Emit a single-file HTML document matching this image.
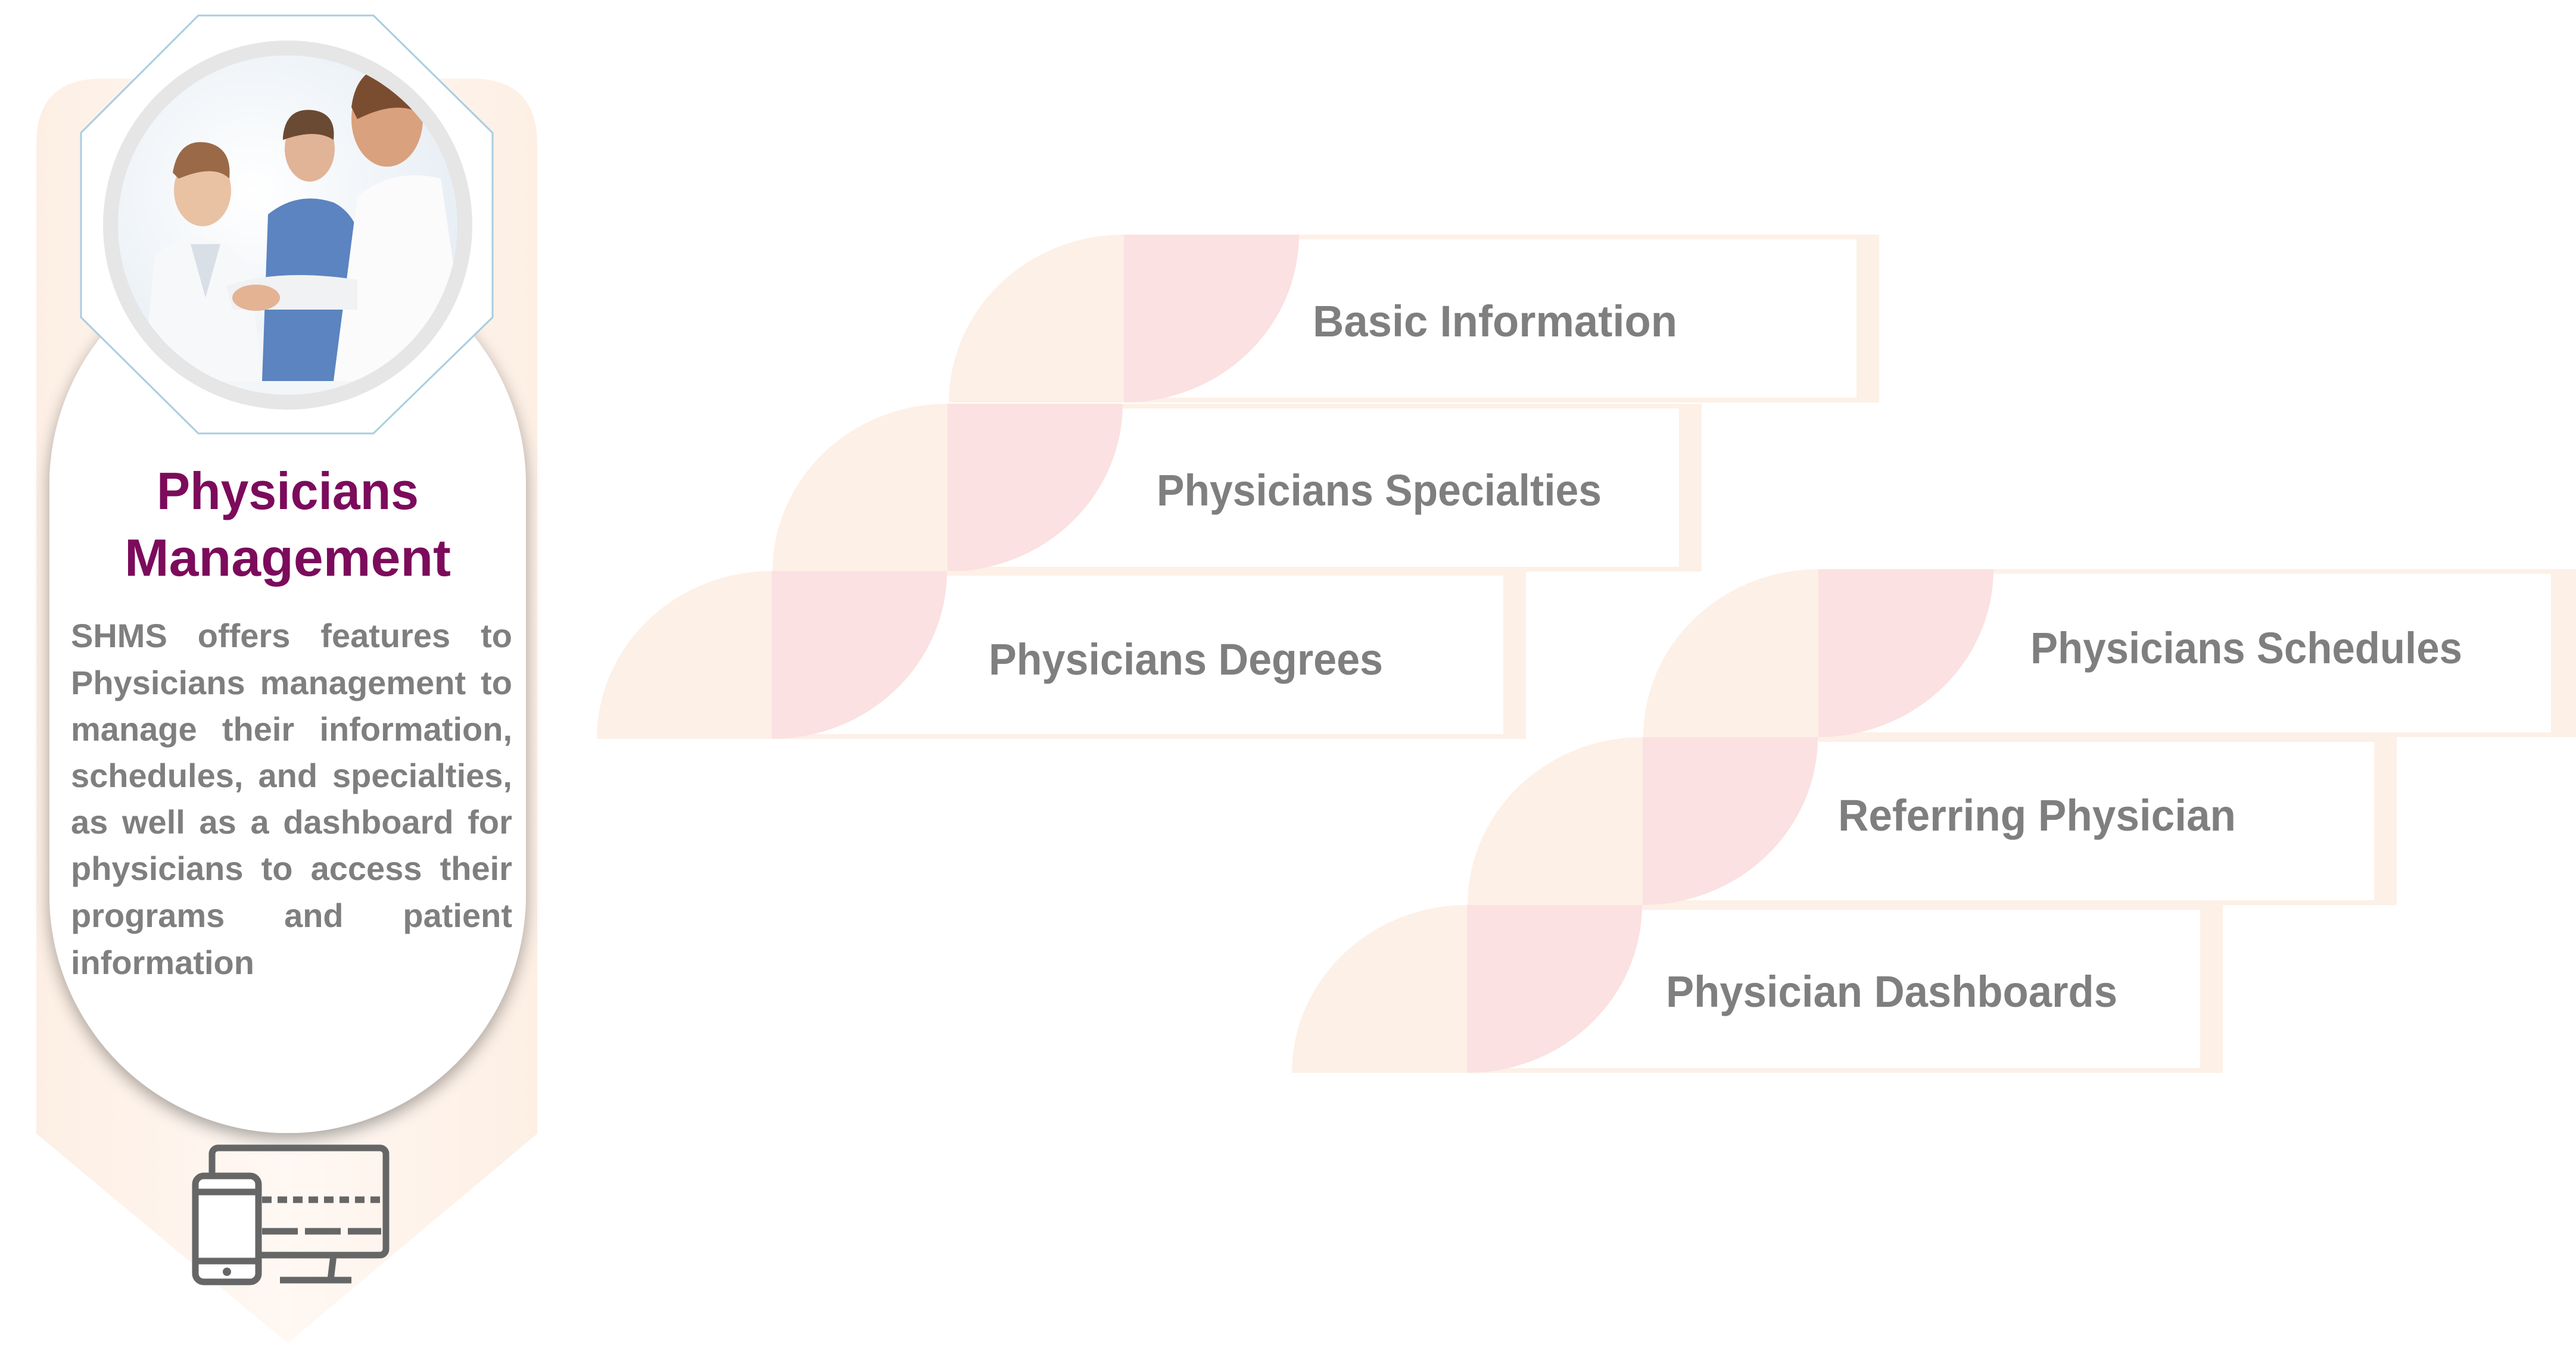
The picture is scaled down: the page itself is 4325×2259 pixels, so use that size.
<!DOCTYPE html>
<html><head><meta charset="utf-8"><style>
html,body{margin:0;padding:0;background:#fff;}
body{width:4325px;height:2259px;position:relative;overflow:hidden;font-family:"Liberation Sans",sans-serif;}
.body{position:absolute;left:119px;width:741px;font-weight:bold;color:#7f7f7f;font-size:56px;}
.ln{position:absolute;left:0;width:741px;display:flex;justify-content:space-between;white-space:nowrap;height:70px;line-height:70px;}
</style></head><body>
<svg width="4325" height="2259" viewBox="0 0 4325 2259" style="position:absolute;left:0;top:0">
<defs>
<linearGradient id="pg" x1="0" y1="0" x2="1" y2="0">
<stop offset="0" stop-color="#fdefe4"/><stop offset="0.5" stop-color="#fff8f3"/><stop offset="1" stop-color="#fdefe4"/></linearGradient>
<filter id="sh" x="-20%" y="-20%" width="140%" height="140%"><feGaussianBlur in="SourceAlpha" stdDeviation="14"/><feOffset dx="0" dy="10"/><feComponentTransfer><feFuncA type="linear" slope="0.35"/></feComponentTransfer><feMerge><feMergeNode/><feMergeNode in="SourceGraphic"/></feMerge></filter>
<clipPath id="cc"><circle cx="483" cy="378" r="285"/></clipPath>
<radialGradient id="bgp" cx="0.4" cy="0.4" r="0.7"><stop offset="0" stop-color="#ffffff"/><stop offset="1" stop-color="#e4ecf3"/></radialGradient>
</defs>
<path d="M61,242 Q61,132 171,132 L792,132 Q902,132 902,242 L902,1904 L483,2256 L61,1904 Z" fill="url(#pg)"/>
<rect x="83" y="414" width="800" height="1489" rx="400" ry="400" fill="#fff" filter="url(#sh)"/>
<polygon points="333,26 627,26 827,223 827,533 627,728 333,728 136,533 136,223" fill="#fff" stroke="#a9cde2" stroke-width="3"/>
<circle cx="483" cy="378" r="310" fill="#e6e6e6"/>
<circle cx="483" cy="378" r="285" fill="url(#bgp)"/>
<g clip-path="url(#cc)">
<rect x="190" y="560" width="600" height="120" fill="#f3f6f9"/>
<ellipse cx="340" cy="320" rx="48" ry="60" fill="#e9c2a4"/>
<path d="M290,290 Q300,230 350,240 Q390,250 385,300 Q360,275 300,300Z" fill="#9a6a48"/>
<path d="M240,640 L260,430 Q300,390 345,400 Q390,410 420,450 L440,640Z" fill="#f7f8fa"/>
<path d="M320,410 L345,500 L370,410Z" fill="#d9dfe6"/>
<ellipse cx="520" cy="250" rx="42" ry="55" fill="#e1b497"/>
<path d="M475,230 Q480,180 525,185 Q565,190 560,235 Q530,215 475,235Z" fill="#6b4a34"/>
<path d="M440,640 L450,360 Q500,320 560,340 Q600,360 610,420 L600,640Z" fill="#5b84c0"/>
<ellipse cx="650" cy="200" rx="60" ry="80" fill="#d9a17e"/>
<path d="M590,180 Q600,100 680,110 Q740,130 740,230 Q700,150 600,200Z" fill="#7b4d30"/>
<path d="M560,640 L600,330 Q660,280 740,300 L790,640Z" fill="#fbfbfc"/>
<path d="M380,480 Q470,450 600,470 L600,520 Q480,520 390,520Z" fill="#f1f2f4"/>
<ellipse cx="430" cy="500" rx="40" ry="22" fill="#e3b394"/>
</g>
<text x="483" y="855" text-anchor="middle" font-family="Liberation Sans" font-weight="bold" font-size="88" fill="#7c0b5b" textLength="440" lengthAdjust="spacingAndGlyphs">Physicians</text>
<text x="483" y="967" text-anchor="middle" font-family="Liberation Sans" font-weight="bold" font-size="88" fill="#7c0b5b" textLength="548" lengthAdjust="spacingAndGlyphs">Management</text>
<g fill="none" stroke="#666" stroke-width="11">
<rect x="356" y="1928" width="292" height="180" rx="10"/>
<path d="M560,2108 L555,2150 M470,2150 L590,2150"/>
<path d="M440,2015 L640,2015" stroke-dasharray="16 10"/>
<path d="M440,2068 L640,2068" stroke-dasharray="60 12"/>
<rect x="328" y="1975" width="106" height="178" rx="14" fill="#fff"/>
<path d="M328,2002 L434,2002 M328,2118 L434,2118"/>
</g>
<circle cx="381" cy="2136" r="7" fill="#666"/>
<g>
<rect x="1887" y="394" width="1268" height="282" fill="#fdf0e6"/><rect x="1887" y="402" width="1230" height="266" fill="#fff"/>
<path d="M1887,676 L1593,676 A294 282 0 0 1 1887,394 Z" fill="#fdf0e6"/><path d="M1887,394 L2181,394 A294 282 0 0 1 1887,676 Z" fill="#fbe1e1"/>
<rect x="1591" y="678" width="1266" height="282" fill="#fdf0e6"/><rect x="1591" y="686" width="1228" height="266" fill="#fff"/>
<path d="M1591,960 L1297,960 A294 282 0 0 1 1591,678 Z" fill="#fdf0e6"/><path d="M1591,678 L1885,678 A294 282 0 0 1 1591,960 Z" fill="#fbe1e1"/>
<rect x="1296" y="959" width="1266" height="282" fill="#fdf0e6"/><rect x="1296" y="967" width="1228" height="266" fill="#fff"/>
<path d="M1296,1241 L1002,1241 A294 282 0 0 1 1296,959 Z" fill="#fdf0e6"/><path d="M1296,959 L1590,959 A294 282 0 0 1 1296,1241 Z" fill="#fbe1e1"/>
<rect x="3053" y="956" width="1280" height="282" fill="#fdf0e6"/><rect x="3053" y="964" width="1230" height="266" fill="#fff"/>
<path d="M3053,1238 L2759,1238 A294 282 0 0 1 3053,956 Z" fill="#fdf0e6"/><path d="M3053,956 L3347,956 A294 282 0 0 1 3053,1238 Z" fill="#fbe1e1"/>
<rect x="2758" y="1238" width="1266" height="282" fill="#fdf0e6"/><rect x="2758" y="1246" width="1228" height="266" fill="#fff"/>
<path d="M2758,1520 L2464,1520 A294 282 0 0 1 2758,1238 Z" fill="#fdf0e6"/><path d="M2758,1238 L3052,1238 A294 282 0 0 1 2758,1520 Z" fill="#fbe1e1"/>
<rect x="2463" y="1520" width="1269" height="282" fill="#fdf0e6"/><rect x="2463" y="1528" width="1231" height="266" fill="#fff"/>
<path d="M2463,1802 L2169,1802 A294 282 0 0 1 2463,1520 Z" fill="#fdf0e6"/><path d="M2463,1520 L2757,1520 A294 282 0 0 1 2463,1802 Z" fill="#fbe1e1"/>
</g>
<g font-family="Liberation Sans" font-weight="bold" font-size="74" fill="#7f7f7f">
<text x="2204" y="565" textLength="612" lengthAdjust="spacingAndGlyphs">Basic Information</text>
<text x="1942" y="849" textLength="747" lengthAdjust="spacingAndGlyphs">Physicians Specialties</text>
<text x="1660" y="1133" textLength="662" lengthAdjust="spacingAndGlyphs">Physicians Degrees</text>
<text x="3409" y="1114" textLength="725" lengthAdjust="spacingAndGlyphs">Physicians Schedules</text>
<text x="3086" y="1395" textLength="668" lengthAdjust="spacingAndGlyphs">Referring Physician</text>
<text x="2797" y="1691" textLength="758" lengthAdjust="spacingAndGlyphs">Physician Dashboards</text>
</g>
</svg>
<div class="body">
<div class="ln" style="top:1033px"><span>SHMS</span><span>offers</span><span>features</span><span>to</span></div>
<div class="ln" style="top:1112px"><span>Physicians</span><span>management</span><span>to</span></div>
<div class="ln" style="top:1190px"><span>manage</span><span>their</span><span>information,</span></div>
<div class="ln" style="top:1268px"><span>schedules,</span><span>and</span><span>specialties,</span></div>
<div class="ln" style="top:1346px"><span>as</span><span>well</span><span>as</span><span>a</span><span>dashboard</span><span>for</span></div>
<div class="ln" style="top:1424px"><span>physicians</span><span>to</span><span>access</span><span>their</span></div>
<div class="ln" style="top:1503px"><span>programs</span><span>and</span><span>patient</span></div>
<div class="ln" style="top:1582px;justify-content:flex-start"><span>information</span></div>
</div>
</body></html>
